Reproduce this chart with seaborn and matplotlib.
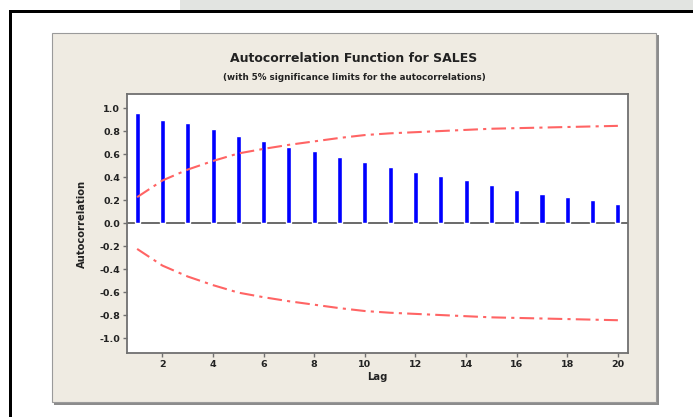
import matplotlib
matplotlib.use('Agg')
import matplotlib.pyplot as plt
from matplotlib.patches import Rectangle
import seaborn as sns

# autocorrelations
lags = [1, 2, 3, 4, 5, 6, 7, 8, 9, 10, 11, 12, 13, 14, 15, 16, 17, 18, 19, 20]
acf = [0.96, 0.90, 0.87, 0.815, 0.76, 0.71, 0.66, 0.625, 0.57, 0.53,
       0.49, 0.44, 0.41, 0.37, 0.33, 0.29, 0.255, 0.23, 0.20, 0.165]
# upper 5% significance limit (lower one is the mirror)
upper = [0.225, 0.37, 0.465, 0.54, 0.605, 0.645, 0.68, 0.71, 0.74, 0.765,
         0.78, 0.79, 0.80, 0.81, 0.82, 0.825, 0.83, 0.835, 0.84, 0.845]
lower = [-u for u in upper]
yticks = [1.0, 0.8, 0.6, 0.4, 0.2, 0.0, -0.2, -0.4, -0.6, -0.8, -1.0]
xticks = [2, 4, 6, 8, 10, 12, 14, 16, 18, 20]

sns.set_style('white')
plt.rcParams['font.family'] = ['DejaVu Sans']

W, H = 693, 417
fig = plt.figure(figsize=(W / 100, H / 100), dpi=100)
fig.patch.set_facecolor('white')


def box(x0, y0, x1, y1, **kw):
    # rectangle given in pixel coords (origin top-left)
    r = Rectangle((x0 / W, 1 - y1 / H), (x1 - x0) / W, (y1 - y0) / H,
                  transform=fig.transFigure, **kw)
    fig.add_artist(r)


# grey strip above the frame, black frame
box(180, 0, 693, 10, facecolor='#e2e4e1', edgecolor='none', zorder=0)
box(9, 10, 693, 13, facecolor='black', edgecolor='none', zorder=0)
box(9, 10, 12, 417, facecolor='black', edgecolor='none', zorder=0)
# beige panel with shadow
box(54, 35, 659, 405, facecolor='#8c8c8c', edgecolor='none', zorder=0)
box(52, 33, 656, 402, facecolor='#efebe2', edgecolor='#9a9a9a', linewidth=0.8, zorder=0)

ax = fig.add_axes([127 / W, 1 - 353 / H, (628 - 127) / W, (353 - 94) / H])
ax.set_facecolor('white')

ax.axhline(0, color='#505050', linewidth=1.2, zorder=2)
sns.barplot(x=lags, y=acf, native_scale=True, width=0.2, color='#0000ff',
            saturation=1, errorbar=None, ax=ax, zorder=3)
sns.lineplot(x=lags, y=upper, color='#ff6464', linewidth=1.5,
             linestyle=(0, (7, 2.5, 1.5, 2.5)), ax=ax, zorder=4)
sns.lineplot(x=lags, y=lower, color='#ff6464', linewidth=1.5,
             linestyle=(0, (7, 2.5, 1.5, 2.5)), ax=ax, zorder=4)

ax.set_xlim(0.6, 20.4)
ax.set_ylim(-1.13, 1.122)
ax.set_xticks(xticks)
ax.set_yticks(yticks)
ax.set_xticklabels([str(t) for t in xticks])
ax.set_yticklabels(['%.1f' % t for t in yticks])
ax.tick_params(axis='both', direction='out', length=3, width=1, color='#707070',
               labelsize=6.8, labelcolor='#222222', pad=2, bottom=True, left=True)
for lab in ax.get_xticklabels() + ax.get_yticklabels():
    lab.set_fontweight('bold')
for s in ax.spines.values():
    s.set_color('#707070')
    s.set_linewidth(1.3)

ax.set_xlabel('Lag', fontsize=7.2, fontweight='bold', color='#222222', labelpad=2)
ax.set_ylabel('Autocorrelation', fontsize=7.2, fontweight='bold', color='#222222', labelpad=9)

fig.text(354 / W, 1 - 58 / H, 'Autocorrelation Function for SALES', ha='center',
         va='center', fontsize=9, fontweight='bold', color='#222222')
fig.text(354 / W, 1 - 77 / H, '(with 5% significance limits for the autocorrelations)',
         ha='center', va='center', fontsize=6.3, fontweight='bold', color='#222222')

fig.savefig('out.png', dpi=100)
